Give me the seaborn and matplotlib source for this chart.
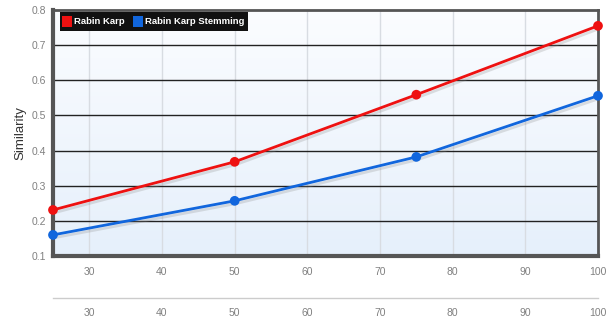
import numpy as np
import pandas as pd
import matplotlib
matplotlib.use("Agg")
import matplotlib.pyplot as plt
import matplotlib.patheffects as pe
from matplotlib.patches import Rectangle
import seaborn as sns

# Similarity scores per percentage of text
x_values = [25, 50, 75, 100]
rabin_karp = [0.231, 0.368, 0.559, 0.755]
rabin_karp_stemming = [0.160, 0.257, 0.382, 0.556]
series_names = ["Rabin Karp", "Rabin Karp Stemming"]
series_colors = ["#ee1111", "#1166dd"]
x_ticks = [30, 40, 50, 60, 70, 80, 90, 100]
y_ticks = [0.1, 0.2, 0.3, 0.4, 0.5, 0.6, 0.7, 0.8]

df = pd.DataFrame({
    "x": x_values * 2,
    "y": rabin_karp + rabin_karp_stemming,
    "series": [series_names[0]] * 4 + [series_names[1]] * 4,
})

sns.set_style("white")
plt.rcParams["font.family"] = ["Liberation Sans", "DejaVu Sans"]

fig = plt.figure(figsize=(6.13, 3.21), dpi=100)
W, H = 613, 321
left, right, top, bottom = 53, 598, 10, 256
ax = fig.add_axes([left / W, 1 - bottom / H, (right - left) / W, (bottom - top) / H])

# gradient background
grad = np.linspace(0, 1, 256).reshape(-1, 1)
top_c = np.array([0.985, 0.99, 1.0])
bot_c = np.array([0.90, 0.94, 0.985])
img = top_c * (1 - grad[..., None]) + bot_c * grad[..., None]
ax.imshow(img, extent=[25, 100, 0.1, 0.8], origin="upper", aspect="auto", zorder=0)

for v in x_ticks[:-1]:
    ax.axvline(v, color="#d8dce2", lw=1.0, zorder=1)
for v in y_ticks[1:-1]:
    ax.axhline(v, color="#222222", lw=1.0, zorder=1)

palette = dict(zip(series_names, series_colors))
sns.lineplot(data=df, x="x", y="y", hue="series", palette=palette, marker="o",
             markersize=7, markeredgewidth=0, linewidth=2, ax=ax, legend=False)
for line in ax.get_lines():
    if line.get_marker() == "o":
        line.set_clip_on(False)
        line.set_zorder(6)
        line.set_path_effects([pe.SimpleLineShadow(offset=(1, -2), shadow_color="#888888", alpha=0.25),
                               pe.Normal()])

ax.set_xlim(25, 100)
ax.set_ylim(0.1, 0.8)
ax.set_xticks(x_ticks)
ax.set_yticks(y_ticks)
ax.set_yticklabels([f"{v:.1f}" for v in y_ticks])
ax.tick_params(axis="both", colors="#808080", labelsize=7.5, length=0, pad=8)
ax.tick_params(axis="y", pad=5)
ax.set_xlabel("")
ax.set_ylabel("Similarity", fontsize=9.5, color="#333333", labelpad=4)

for side, sp in ax.spines.items():
    sp.set_visible(True)
    sp.set_color("#555555")
    sp.set_linewidth(3.0 if side in ("left", "bottom") else 2.0)
    sp.set_zorder(5)

# legend box
ax.add_patch(Rectangle((0.0128, 0.915), 0.345, 0.077, transform=ax.transAxes,
                       facecolor="#111111", edgecolor="none", zorder=8))
ax.add_patch(Rectangle((0.0165, 0.931), 0.019, 0.045, transform=ax.transAxes,
                       facecolor=series_colors[0], edgecolor="none", zorder=9))
ax.text(0.039, 0.953, series_names[0], transform=ax.transAxes, color="white",
        fontsize=6.8, va="center", ha="left", fontweight="bold", zorder=9)
ax.add_patch(Rectangle((0.147, 0.931), 0.019, 0.045, transform=ax.transAxes,
                       facecolor=series_colors[1], edgecolor="none", zorder=9))
ax.text(0.169, 0.953, series_names[1], transform=ax.transAxes, color="white",
        fontsize=6.8, va="center", ha="left", fontweight="bold", zorder=9)

# secondary navigator axis below
ax2 = fig.add_axes([left / W, 1 - 298 / H, (right - left) / W, 0.001])
ax2.set_xlim(25, 100)
ax2.set_ylim(0, 1)
ax2.set_xticks(x_ticks)
ax2.set_yticks([])
for side, sp in ax2.spines.items():
    sp.set_visible(side == "bottom")
ax2.spines["bottom"].set_color("#cccccc")
ax2.spines["bottom"].set_linewidth(1.0)
ax2.tick_params(axis="x", colors="#808080", labelsize=7.5, direction="in", length=4,
                color="#cccccc", pad=7)
ax2.patch.set_alpha(0)

fig.savefig("out.png", dpi=100)
